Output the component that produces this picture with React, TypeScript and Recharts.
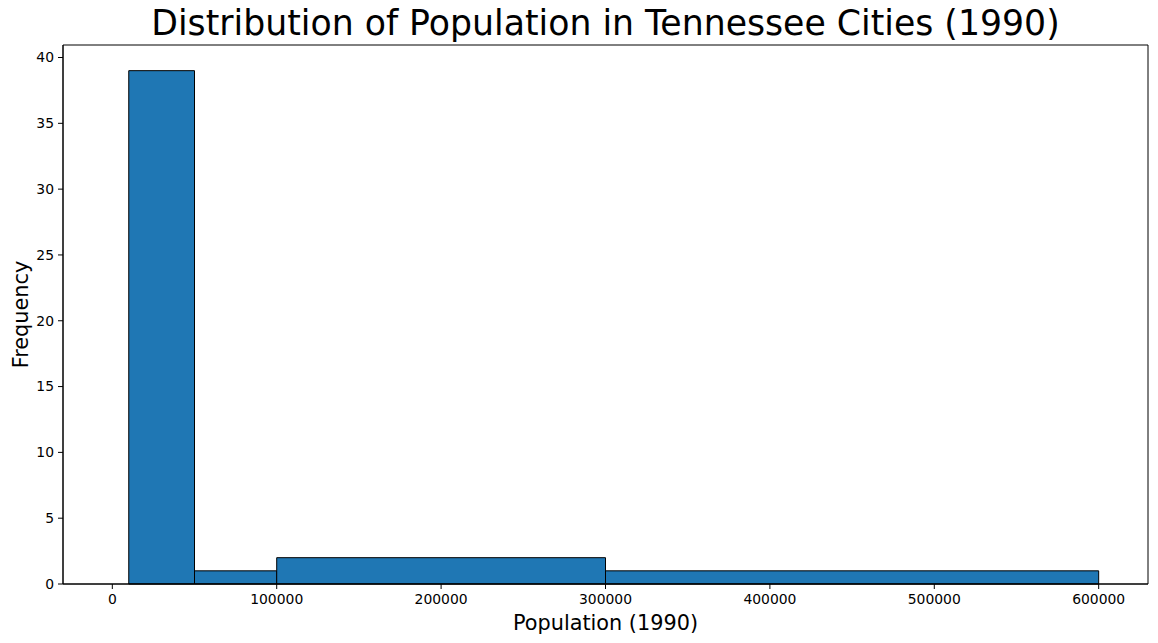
import { ComposedChart, XAxis, YAxis, ReferenceArea, Label } from "recharts";

/* ── Histogram data (Tennessee city populations, 1990) ── */
const BIN_EDGES = [0, 10000, 50000, 100000, 300000, 600000];
const BIN_COUNTS = [0, 39, 1, 2, 1];
const X_TICKS = [0, 100000, 200000, 300000, 400000, 500000, 600000];
const Y_TICKS = [0, 5, 10, 15, 20, 25, 30, 35, 40];

const X_DOMAIN = [-30000, 630000];
const Y_DOMAIN = [0, 40.95];

const FONT = "'DejaVu Sans', sans-serif";
const BAR_FILL = "#1f77b4";

const bins = BIN_COUNTS.map((count, i) => ({
  x0: BIN_EDGES[i],
  x1: BIN_EDGES[i + 1],
  count,
}));

export default function App() {
  return (
    <div style={{ position: "absolute", left: 0, top: 0, width: 1158, height: 643, background: "#fff", fontFamily: FONT }}>
      <div
        style={{
          position: "absolute",
          left: 63,
          width: 1085,
          top: 2,
          textAlign: "center",
          fontSize: 34.7,
          lineHeight: "42px",
          color: "#000",
        }}
      >
        Distribution of Population in Tennessee Cities (1990)
      </div>
      <ComposedChart
        width={1158}
        height={643}
        data={bins}
        margin={{ top: 45, right: 10, bottom: 0, left: 0 }}
      >
        <XAxis
          type="number"
          dataKey="x0"
          domain={X_DOMAIN}
          ticks={X_TICKS}
          allowDataOverflow
          height={59}
          tickSize={5}
          tickMargin={5}
          stroke="#000"
          tick={{ fill: "#000", fontSize: 13.9, fontFamily: FONT }}
        >
          <Label
            content={({ viewBox }: any) => (
              <text
                x={viewBox.x + viewBox.width / 2}
                y={630}
                textAnchor="middle"
                fontSize={20.8}
                fontFamily={FONT}
                fill="#000"
              >
                Population (1990)
              </text>
            )}
          />
        </XAxis>
        <YAxis
          type="number"
          domain={Y_DOMAIN}
          ticks={Y_TICKS}
          allowDataOverflow
          width={63}
          tickSize={5}
          tickMargin={4}
          stroke="#000"
          tick={{ fill: "#000", fontSize: 13.9, fontFamily: FONT }}
        >
          <Label
            content={({ viewBox }: any) => {
              const cy = viewBox.y + viewBox.height / 2;
              return (
                <text
                  x={28}
                  y={cy}
                  transform={`rotate(-90 28 ${cy})`}
                  textAnchor="middle"
                  fontSize={20.8}
                  fontFamily={FONT}
                  fill="#000"
                >
                  Frequency
                </text>
              );
            }}
          />
        </YAxis>
        {bins.map((b, i) => (
          <ReferenceArea
            key={i}
            x1={b.x0}
            x2={b.x1}
            y1={0}
            y2={b.count}
            fill={BAR_FILL}
            fillOpacity={1}
            stroke="#000"
            strokeWidth={1}
            ifOverflow="visible"
          />
        ))}
        {/* axes frame (top/right spines) */}
        <ReferenceArea
          x1={X_DOMAIN[0]}
          x2={X_DOMAIN[1]}
          y1={Y_DOMAIN[0]}
          y2={Y_DOMAIN[1]}
          fill="none"
          stroke="#000"
          strokeWidth={1}
          ifOverflow="visible"
        />
      </ComposedChart>
    </div>
  );
}
